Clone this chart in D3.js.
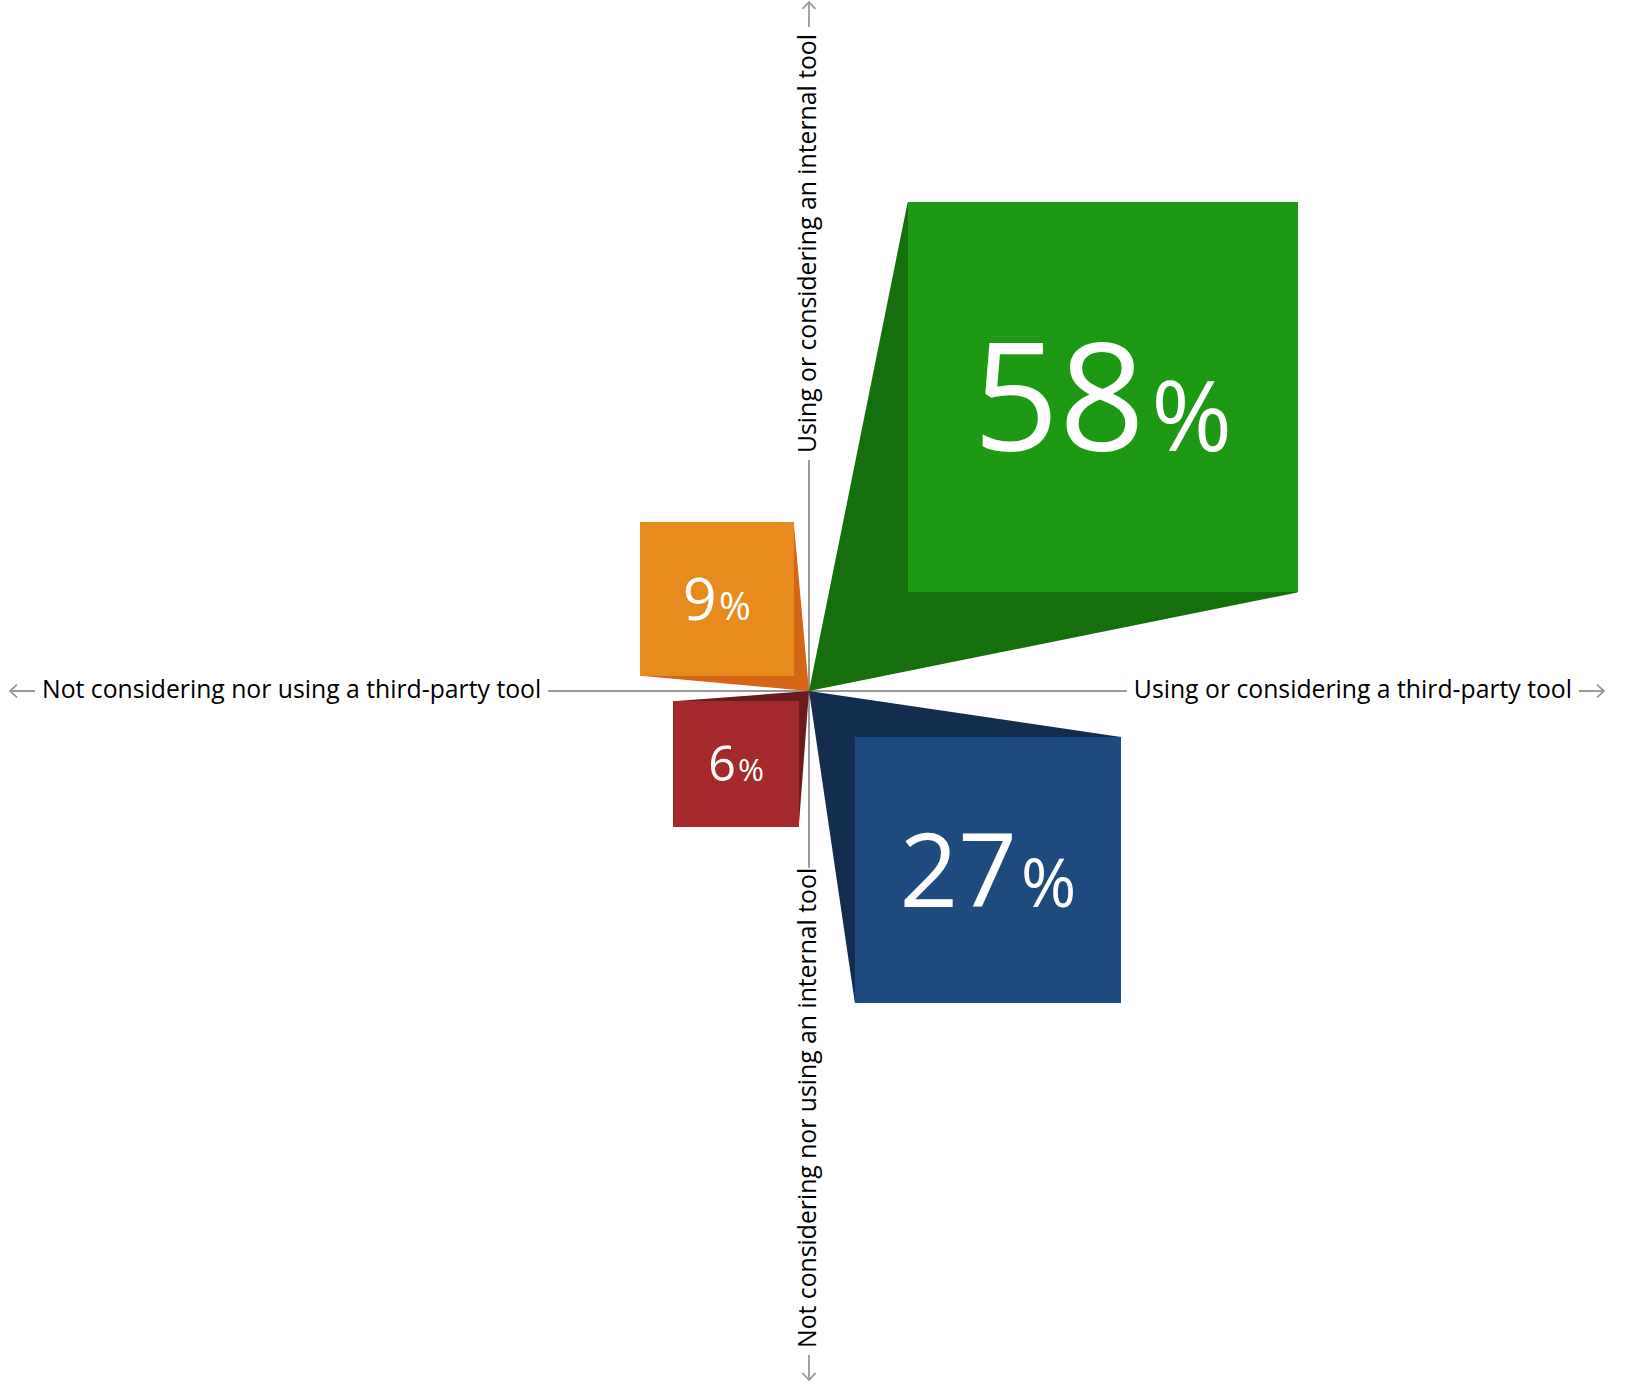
<!DOCTYPE html>
<html>
<head>
<meta charset="utf-8">
<script src="https://cdn.jsdelivr.net/npm/d3@7"></script>
<style>
  html, body { margin: 0; padding: 0; background: #fff; }
  svg { display: block; font-family: "Open Sans", "Noto Sans", sans-serif; }
</style>
</head>
<body>
<svg id="chart" width="1627" height="1390"></svg>
<script>
// Survey shares for each combination of tool usage
const quadrants = ["Third-party and internal", "Third-party only", "Internal only", "Neither"];
const shares = [58, 27, 9, 6];
// +1 = using or considering, -1 = not considering nor using
const thirdParty = [1, 1, -1, -1];
const internal = [1, -1, 1, -1];

const axisLabels = {
  right: "Using or considering a third-party tool",
  left: "Not considering nor using a third-party tool",
  top: "Using or considering an internal tool",
  bottom: "Not considering nor using an internal tool"
};

const frontPalette = ["#1d9913", "#1e4b7e", "#e88b1f", "#a4292a"];
const shadePalette = ["#146f0c", "#132d51", "#d66516", "#6c1b1c"];

const W = 1627, H = 1390;
const cx = 809, cy = 691;
const axisColor = "#999";
const arrowLen = 25, labelGap = 7;

const svg = d3.select("#chart");

// square area is proportional to the share; the square is pushed away
// from the origin in proportion to the share
const side = d3.scaleSqrt().domain([0, 100]).range([0, 512]);
const offset = d3.scaleLinear().domain([0, 100]).range([0, 170]);
const front = d3.scaleOrdinal().domain(quadrants).range(frontPalette);
const shade = d3.scaleOrdinal().domain(quadrants).range(shadePalette);

const data = quadrants.map((q, i) => ({
  name: q, value: shares[i], sx: thirdParty[i], sy: internal[i]
}));

// ---- axes ----
const axes = svg.append("g");
const labelStyle = sel => sel
  .attr("font-size", 24.75)
  .attr("fill", "#000")
  .attr("dy", "0.27em");

function arrow(x1, y1, x2, y2) {
  // shaft from (x1,y1) to tip (x2,y2) with an open head
  const a = Math.atan2(y2 - y1, x2 - x1);
  const h = 9.5, spread = Math.PI / 4.2;
  const p = d3.path();
  p.moveTo(x1, y1); p.lineTo(x2, y2);
  p.moveTo(x2 - h * Math.cos(a - spread), y2 - h * Math.sin(a - spread));
  p.lineTo(x2, y2);
  p.lineTo(x2 - h * Math.cos(a + spread), y2 - h * Math.sin(a + spread));
  axes.append("path").attr("d", p.toString())
    .attr("fill", "none").attr("stroke", axisColor).attr("stroke-width", 1.8);
}

const leftTip = 10, rightTip = 1604, topTip = 2, bottomTip = 1380;

// horizontal
const lLabel = axes.append("text").text(axisLabels.left).call(labelStyle)
  .attr("x", leftTip + arrowLen + labelGap).attr("y", cy);
const rLabel = axes.append("text").text(axisLabels.right).call(labelStyle)
  .attr("text-anchor", "end")
  .attr("x", rightTip - arrowLen - labelGap).attr("y", cy);
const lLen = lLabel.node().getComputedTextLength();
const rLen = rLabel.node().getComputedTextLength();
arrow(leftTip + arrowLen, cy, leftTip, cy);
arrow(rightTip - arrowLen, cy, rightTip, cy);

// vertical (rotated labels)
const tLabel = axes.append("text").text(axisLabels.top).call(labelStyle)
  .attr("text-anchor", "end")
  .attr("transform", `translate(${cx},${topTip + arrowLen + labelGap}) rotate(-90)`);
const bLabel = axes.append("text").text(axisLabels.bottom).call(labelStyle)
  .attr("transform", `translate(${cx},${bottomTip - arrowLen - labelGap}) rotate(-90)`);
const tLen = tLabel.node().getComputedTextLength();
const bLen = bLabel.node().getComputedTextLength();
arrow(cx, topTip + arrowLen, cx, topTip);
arrow(cx, bottomTip - arrowLen, cx, bottomTip);

axes.append("line")
  .attr("x1", leftTip + arrowLen + labelGap + lLen + labelGap)
  .attr("x2", rightTip - arrowLen - labelGap - rLen - labelGap)
  .attr("y1", cy).attr("y2", cy)
  .attr("stroke", axisColor).attr("stroke-width", 2);
axes.append("line")
  .attr("y1", topTip + arrowLen + labelGap + tLen + labelGap)
  .attr("y2", bottomTip - arrowLen - labelGap - bLen)
  .attr("x1", cx).attr("x2", cx)
  .attr("stroke", axisColor).attr("stroke-width", 2);

// ---- quadrant squares ----
const marks = svg.append("g").selectAll("g").data(data).join("g");

marks.each(function (d) {
  const g = d3.select(this);
  const s = side(d.value), o = offset(d.value);
  const nx = cx + d.sx * o, ny = cy - d.sy * o;      // corner nearest the origin
  const fx = nx + d.sx * s, fy = ny - d.sy * s;      // opposite corner

  // shadow fanning out from the origin, tucked under the square
  g.append("path")
    .attr("d", d3.line()([[cx, cy], [nx, fy], [fx, ny]]) + "Z")
    .attr("fill", shade(d.name));

  g.append("rect")
    .attr("x", Math.min(nx, fx)).attr("y", Math.min(ny, fy))
    .attr("width", s).attr("height", s)
    .attr("fill", front(d.name))
    .attr("shape-rendering", "crispEdges");

  const fs = 0.386 * s;
  const t = g.append("text")
    .attr("x", (nx + fx) / 2).attr("y", (ny + fy) / 2)
    .attr("dy", "0.357em")
    .attr("text-anchor", "middle")
    .attr("fill", "#fff")
    .attr("font-size", fs);
  t.append("tspan").text(d.value);
  t.append("tspan").text("%")
    .attr("font-size", fs * 0.65)
    .attr("dx", fs * 0.04);
});
</script>
</body>
</html>
